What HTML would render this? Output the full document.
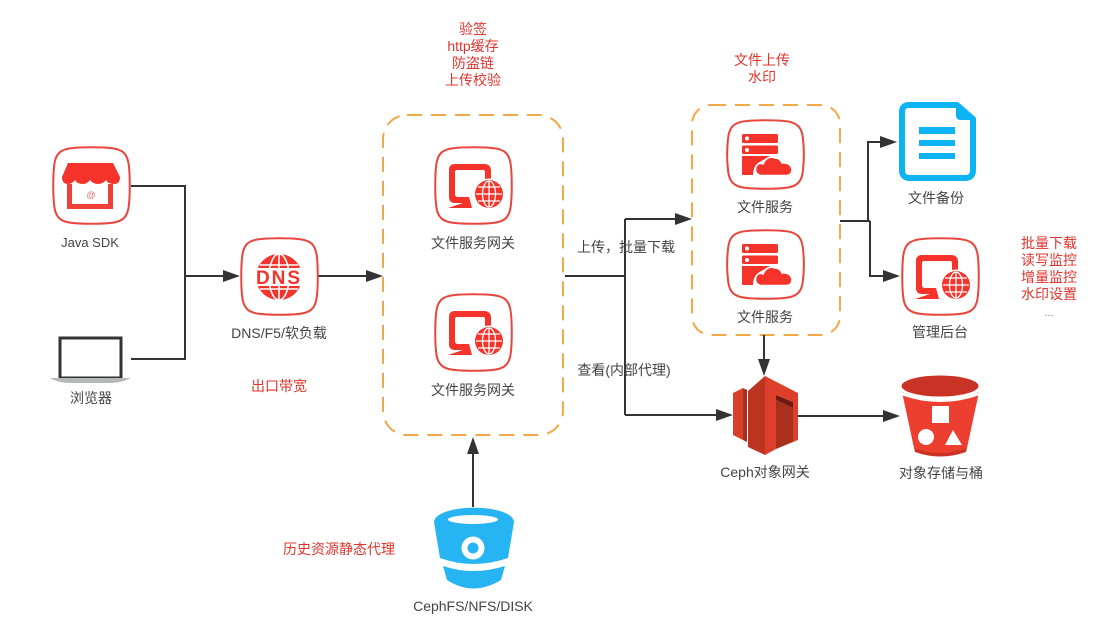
<!DOCTYPE html>
<html><head><meta charset="utf-8"><style>
html,body{margin:0;padding:0;background:#fff}
svg{display:block;filter:blur(0.35px)}
text{font-family:"Liberation Sans","Noto Sans CJK SC",sans-serif;font-size:14px;text-anchor:middle}
.g{fill:#444}.r{fill:#e3342c}
.sq{fill:#fff;stroke:#e8453c;stroke-width:2}
.c{fill:none;stroke:#333;stroke-width:2}
.d{fill:none;stroke:#f0a848;stroke-width:2;stroke-dasharray:15 9}
.a{fill:#333}
</style></head><body>
<svg width="1108" height="625" viewBox="0 0 1108 625" xmlns="http://www.w3.org/2000/svg">
<defs>
<g id="box"><path class="sq" d="M20 1C30 0 47 0 57 1C70 2 75 7 76 20C77 30 77 47 76 57C75 70 70 75 57 76C47 77 30 77 20 76C7 75 2 70 1 57C0 47 0 30 1 20C2 7 7 2 20 1Z"/></g>
<g id="gw">
<use href="#box"/>
<path fill="#f5332a" d="M14 23Q14 17 20 17H49Q56 17 56 24V34H50V25Q50 23 48 23H22Q20 23 20 25V47Q20 50 23 50H34L37 61H13L28 56H20Q14 56 14 50Z"/>
<circle cx="54" cy="47" r="15.500" fill="#fff"/>
<circle cx="54" cy="47" r="14" fill="#f5332a"/>
<g fill="none" stroke="#fff" stroke-width="1.3"><ellipse cx="54" cy="47" rx="6.500" ry="13"/><path d="M41 47H67M43 40H65M43 54H65M54 34V60"/></g>
</g>
<g id="fs">
<path class="sq" d="M20 1C30 0 47 0 57 1C70 2 75 7 76 19C77 28 77 41 76 50C75 62 70 67 57 68C47 69 30 69 20 68C7 67 2 62 1 50C0 41 0 28 1 19C2 7 7 2 20 1Z"/>
<rect x="15" y="14" width="36" height="9" rx="1.500" fill="#f5332a"/><circle cx="20" cy="18.500" r="2" fill="#fff"/>
<rect x="15" y="25.500" width="36" height="8.500" rx="1.500" fill="#f5332a"/><circle cx="20" cy="30" r="2" fill="#fff"/>
<path fill="#f5332a" d="M15 36H43L31 43Q26 47 26 55H16Q15 55 15 54Z"/>
<path fill="#f5332a" stroke="#fff" stroke-width="1.500" d="M34 55.500Q27 54 29 47Q31 42 36 44Q40 35 48 38Q53 38 55 43Q63 42 65 49Q65 55.500 59 55.500Z"/>
</g>
</defs>

<rect class="d" x="383" y="115" width="180" height="320" rx="24"/>
<rect class="d" x="692" y="105" width="148" height="230" rx="19"/>

<path class="c" d="M131 186H185V359H131M185 276H230M318 276H372M565 276H625M625 219V415M625 219H682M625 415H722M840 221H870M868 221V142H887M870 221V276H890M764 335V366M798 416H890M473 507V447"/>
<g class="a">
<polygon points="240,276 223,270 223,282"/>
<polygon points="383,276 366,270 366,282"/>
<polygon points="692,219 675,213 675,225"/>
<polygon points="733,415 716,409 716,421"/>
<polygon points="897,142 880,136 880,148"/>
<polygon points="900,276 883,270 883,282"/>
<polygon points="764,376 758,359 770,359"/>
<polygon points="900,416 883,410 883,422"/>
<polygon points="473,437 467,454 479,454"/>
</g>

<use href="#box" x="53" y="147"/>
<path fill="#f5332a" d="M68 163H113L120 177Q120 184 114 184Q108 184 106 180Q103 184 98 184Q93 184 90 180Q87 184 83 184Q77 184 75 180Q72 184 68 184Q62 184 62 177Z"/>
<path fill="none" stroke="#f0403a" stroke-width="5" d="M69.500 184V206.500H110.500V184"/>
<text x="91" y="198" style="font-size:9px;fill:#e8706a">@</text>

<rect x="60" y="338" width="61" height="40" fill="#fff" stroke="#333" stroke-width="3"/>
<path fill="#b5b8b8" d="M50 378H131Q122 383 110 383H70Q58 383 50 378Z"/>

<use href="#box" x="241" y="238"/>
<circle cx="279" cy="277" r="23" fill="#f5332a"/>
<g fill="none" stroke="#fff" stroke-width="1.600"><ellipse cx="279" cy="277" rx="10" ry="23"/><path d="M279 254V300M260 265H298M260 289H298"/></g>
<rect x="253" y="268" width="52" height="18" fill="#fff"/>
<text x="279" y="284" style="font-size:19px;font-weight:bold;fill:#f5332a;letter-spacing:2px">DNS</text>

<use href="#gw" x="435" y="147"/>
<use href="#gw" x="435" y="294"/>
<use href="#fs" x="727" y="120"/>
<use href="#fs" x="727" y="230"/>
<use href="#gw" x="902" y="238"/>

<path fill="#fff" stroke="#0db4f3" stroke-width="6" stroke-linejoin="round" d="M909 105H957L973 119V170Q973 178 965 178H910Q902 178 902 170V112Q902 105 909 105Z"/>
<path fill="#0db4f3" d="M956 103L976 120H961Q956 120 956 115Z"/>
<g fill="#0db4f3"><rect x="919" y="127" width="36" height="7"/><rect x="919" y="140" width="36" height="6"/><rect x="919" y="153" width="36" height="6"/></g>

<path fill="#d9402a" d="M733 393L743 388V440L733 435Z"/>
<path fill="#a9301c" d="M743 388L747 390V442L743 440Z"/>
<path fill="#bb3520" d="M748 391L765 376V455L748 447Z"/>
<path fill="#dd3f2a" d="M765 376L798 393V440L793 442V402L776 395V449L765 455Z"/>
<path fill="#a9301c" d="M776 400L793 408V442L776 449Z"/>
<path fill="#6f1a10" d="M776 395L793 402V408L776 400Z"/>

<path fill="#ec3f2f" d="M902 392Q940 408 979 392L967 448Q940 462 914 448Z"/>
<path fill="#c93325" d="M914 448Q940 458 967 448L966 452Q940 461 915 452Z"/>
<ellipse cx="940" cy="386" rx="38.500" ry="10.500" fill="#c93325"/>
<path fill="#fff" d="M901 392Q940 406 980 392V395Q940 409 901 395Z"/>
<rect x="932" y="406" width="17" height="17" fill="#fff"/>
<circle cx="926" cy="437" r="8" fill="#fff"/>
<polygon points="953,430 945,445 962,445" fill="#fff"/>

<path fill="#27b4f2" d="M434 522C436 503 512 503 514 522L508 558Q473 570 440 558Z"/>
<ellipse cx="473" cy="519.500" rx="25" ry="4.500" fill="#fff"/>
<path fill="#27b4f2" d="M443 566Q473 576 505 566L501 580Q473 597 447 580Z"/>
<circle cx="473" cy="548" r="11.500" fill="#fff"/>
<circle cx="473" cy="548" r="5.500" fill="#27b4f2"/>

<g class="g">
<text x="90" y="247" style="font-size:13px">Java SDK</text>
<text x="91" y="403">浏览器</text>
<text x="279" y="338">DNS/F5/软负载</text>
<text x="473" y="248">文件服务网关</text>
<text x="473" y="395">文件服务网关</text>
<text x="765" y="212">文件服务</text>
<text x="765" y="322">文件服务</text>
<text x="936" y="203">文件备份</text>
<text x="940" y="337">管理后台</text>
<text x="765" y="477">Ceph对象网关</text>
<text x="941" y="478">对象存储与桶</text>
<text x="473" y="611">CephFS/NFS/DISK</text>
<text x="626" y="252">上传，批量下载</text>
<text x="624" y="375">查看(内部代理)</text>
</g>
<g class="r">
<text x="279" y="391">出口带宽</text>
<text x="339" y="554">历史资源静态代理</text>
<text x="473" y="34">验签</text>
<text x="473" y="51">http缓存</text>
<text x="473" y="68">防盗链</text>
<text x="473" y="85">上传校验</text>
<text x="762" y="65">文件上传</text>
<text x="762" y="82">水印</text>
<text x="1049" y="248">批量下载</text>
<text x="1049" y="265">读写监控</text>
<text x="1049" y="282">增量监控</text>
<text x="1049" y="299">水印设置</text>
<text x="1049" y="316" style="font-size:11px;fill:#888">...</text>
</g>
</svg>
</body></html>
